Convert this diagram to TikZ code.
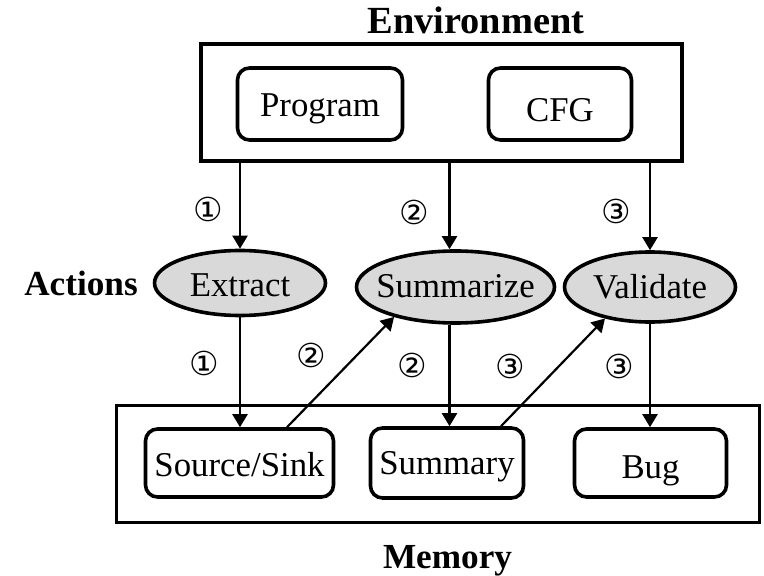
\documentclass[tikz,border=0pt]{standalone}
\usepackage{fontspec}
\setmainfont{Liberation Serif}
\newfontfamily\circfont{DejaVu Sans}
\usetikzlibrary{arrows.meta,shapes.geometric}
\definecolor{actfill}{HTML}{D9D9D9}
% vertical text placement: baseline sits (h-d) px below the node centre
\tikzset{
  tpos/.style={text height=#1, text depth=2pt},
  item/.style={draw, line width=1.8pt, rounded corners=6pt, inner sep=0pt,
    font=\fontsize{17.4}{20}\selectfont},
  act/.style={ellipse, draw, line width=1.8pt, fill=actfill, inner xsep=-12pt,
    inner ysep=0pt, font=\fontsize{17.4}{20}\selectfont},
  frame/.style={draw, line width=1.6pt},
  arr/.style={-{Triangle[length=6.5pt,width=7.5pt]}, line width=1.1pt},
  stepnum/.style={font=\circfont\fontsize{16.5}{18}\selectfont, inner sep=0pt},
  title/.style={font=\bfseries\fontsize{17.6}{20}\selectfont, anchor=base, inner sep=0pt},
}
\begin{document}
\begin{tikzpicture}[x=0.5pt, y=-0.5pt]
\useasboundingbox (0,0) rectangle (764,576);

% Environment
\node[title, font=\bfseries\fontsize{19.2}{22}\selectfont] (envlbl) at (476,34) {Environment};
\node[frame, minimum width=240.5pt, minimum height=58.5pt] (env) at (441.5,102.5) {};
\node[item, tpos=15pt, minimum width=82.5pt, minimum height=36pt] (prog) at (320,104) {Program};
\node[item, tpos=20pt, minimum width=71.5pt, minimum height=36pt] (cfg) at (560,104) {CFG};

% Actions
\node[title] (actlbl) at (81,296) {Actions};
\node[act, tpos=16pt, minimum width=85.5pt, minimum height=32.5pt] (extract) at (240,283) {Extract};
\node[act, tpos=13pt, minimum width=99pt, minimum height=36pt] (summ) at (455.5,287) {Summarize};
\node[act, tpos=14pt, minimum width=85.5pt, minimum height=35pt] (valid) at (650,287) {Validate};

% Memory
\node[frame, minimum width=321.5pt, minimum height=58.5pt] (mem) at (438,464) {};
\node[item, tpos=15.5pt, minimum width=94pt, minimum height=34pt] (src) at (239.5,463) {Source/Sink};
\node[item, tpos=13pt, minimum width=76.5pt, minimum height=35pt] (sumry) at (447,463) {Summary};
\node[item, tpos=17pt, minimum width=76pt, minimum height=34pt] (bug) at (650.5,463) {Bug};
\node[title] (memlbl) at (447.5,568) {Memory};

% Environment to actions
\draw[arr] (extract.north |- env.south) -- (extract.north);
\draw[arr] ([xshift=-3pt]summ.north |- env.south) -- ([xshift=-3pt]summ.north);
\draw[arr] (valid.north |- env.south) -- (valid.north);

% Actions to memory
\draw[arr] (extract.south) -- (extract.south |- src.north);
\draw[arr] ([xshift=-3pt]summ.south) -- ([xshift=-3pt]summ.south |- sumry.north);
\draw[arr] (valid.south) -- (valid.south |- bug.north);

% Memory back to actions
\draw[arr] ([xshift=23.75pt]src.north) -- (summ.206);
\draw[arr] ([xshift=27pt]sumry.north) -- (valid.215);

% Step numbers
\node[stepnum] (n1a) at (208,209) {①};
\node[stepnum] (n2a) at (414,212) {②};
\node[stepnum] (n3a) at (616,211) {③};
\node[stepnum] (n1b) at (204,363) {①};
\node[stepnum] (n2b) at (311,355) {②};
\node[stepnum] (n2c) at (412,365) {②};
\node[stepnum] (n3b) at (510,366) {③};
\node[stepnum] (n3c) at (619,366) {③};
\end{tikzpicture}
\end{document}
